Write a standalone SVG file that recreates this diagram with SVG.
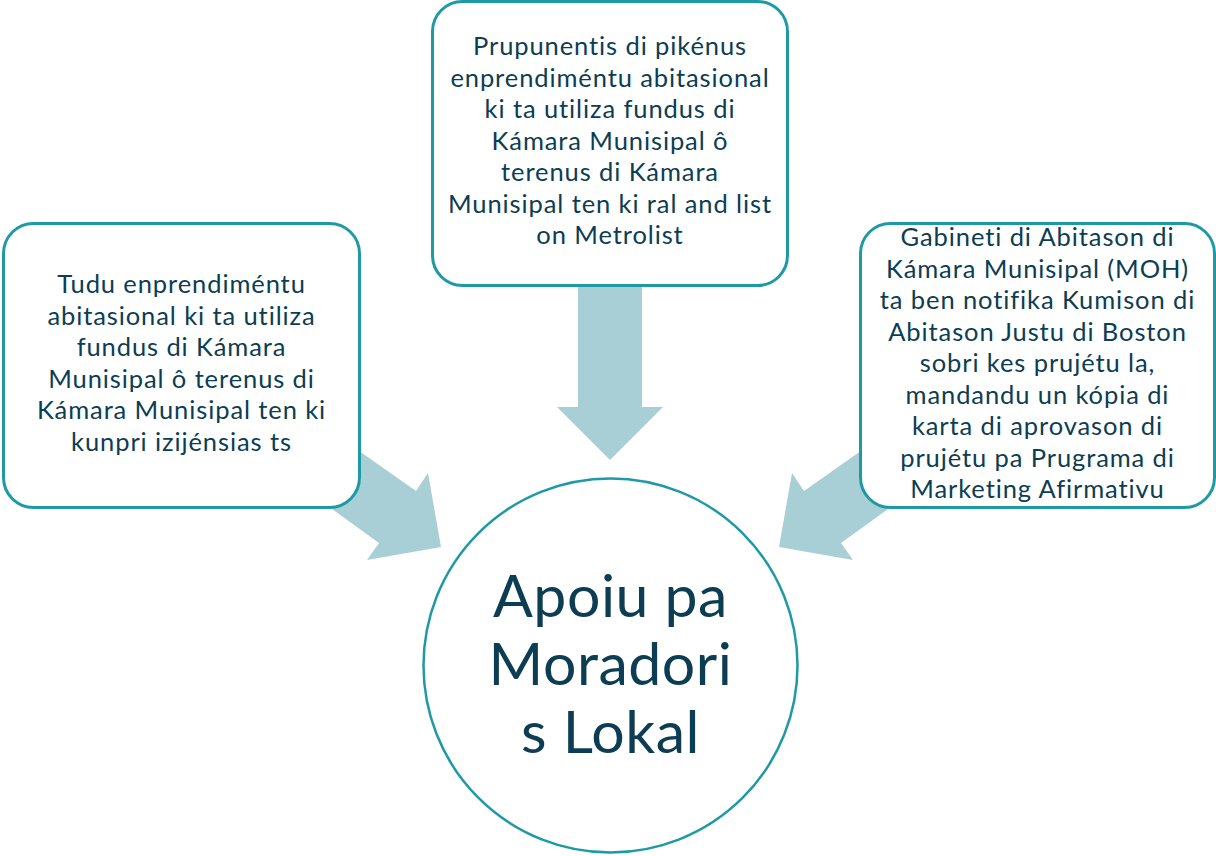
<svg xmlns="http://www.w3.org/2000/svg" width="1216" height="856" viewBox="0 0 1216 856">
  <style>
    .box { fill: #ffffff; stroke: #1f9aa5; stroke-width: 3; }
    .arrow { fill: #a9cfd6; stroke: none; }
    .t { font-family: Lato, "Open Sans", "Liberation Sans", sans-serif; font-size: 25.5px; letter-spacing: 0.9px; fill: #0c3d53; text-anchor: middle; }
    .big { font-family: Lato, "Open Sans", "Liberation Sans", sans-serif; font-size: 59px; letter-spacing: 0.5px; fill: #0c3d53; text-anchor: middle; }
  </style>
  <rect width="1216" height="856" fill="#ffffff"/>
  <g id="connectors">
    <polygon class="arrow" points="578,270 642,270 642,407 663,407 610,460 557,407 578,407"/>
    <polygon class="arrow" points="308,415 416,491 428,473 441,547 367,560 379,543 285,475"/>
    <polygon class="arrow" points="912,415 804,491 792,473 779,547 853,560 841,543 935,475"/>
  </g>
  <g id="node-left">
    <rect class="box" x="3.5" y="223.5" width="356" height="284" rx="30" ry="30"/>
    <text class="t" x="181.5" y="293">Tudu enprendiméntu</text>
    <text class="t" x="181.5" y="324.5">abitasional ki ta utiliza</text>
    <text class="t" x="181.5" y="356">fundus di Kámara</text>
    <text class="t" x="181.5" y="387.5">Munisipal ô terenus di</text>
    <text class="t" x="181.5" y="419">Kámara Munisipal ten ki</text>
    <text class="t" x="181.5" y="450.5">kunpri izijénsias ts</text>
  </g>
  <g id="node-top">
    <rect class="box" x="432.5" y="1.5" width="355" height="284" rx="30" ry="30"/>
    <text class="t" x="610" y="55">Prupunentis di pikénus</text>
    <text class="t" x="610" y="86.5">enprendiméntu abitasional</text>
    <text class="t" x="610" y="118">ki ta utiliza fundus di</text>
    <text class="t" x="610" y="149.5">Kámara Munisipal ô</text>
    <text class="t" x="610" y="181">terenus di Kámara</text>
    <text class="t" x="610" y="212.5">Munisipal ten ki ral and list</text>
    <text class="t" x="610" y="244">on Metrolist</text>
  </g>
  <g id="node-right">
    <rect class="box" x="860.5" y="223.5" width="354" height="284" rx="30" ry="30"/>
    <text class="t" x="1037.5" y="246">Gabineti di Abitason di</text>
    <text class="t" x="1037.5" y="277.5">Kámara Munisipal (MOH)</text>
    <text class="t" x="1037.5" y="309">ta ben notifika Kumison di</text>
    <text class="t" x="1037.5" y="340.5">Abitason Justu di Boston</text>
    <text class="t" x="1037.5" y="372">sobri kes prujétu la,</text>
    <text class="t" x="1037.5" y="403.5">mandandu un kópia di</text>
    <text class="t" x="1037.5" y="435">karta di aprovason di</text>
    <text class="t" x="1037.5" y="466.5">prujétu pa Prugrama di</text>
    <text class="t" x="1037.5" y="498">Marketing Afirmativu</text>
  </g>
  <g id="node-center">
    <circle cx="610.5" cy="665.5" r="187" fill="#ffffff" stroke="#1f9aa5" stroke-width="2.5"/>
    <text class="big" x="610.5" y="617">Apoiu pa</text>
    <text class="big" x="610.5" y="685">Moradori</text>
    <text class="big" x="610.5" y="753">s Lokal</text>
  </g>
</svg>
